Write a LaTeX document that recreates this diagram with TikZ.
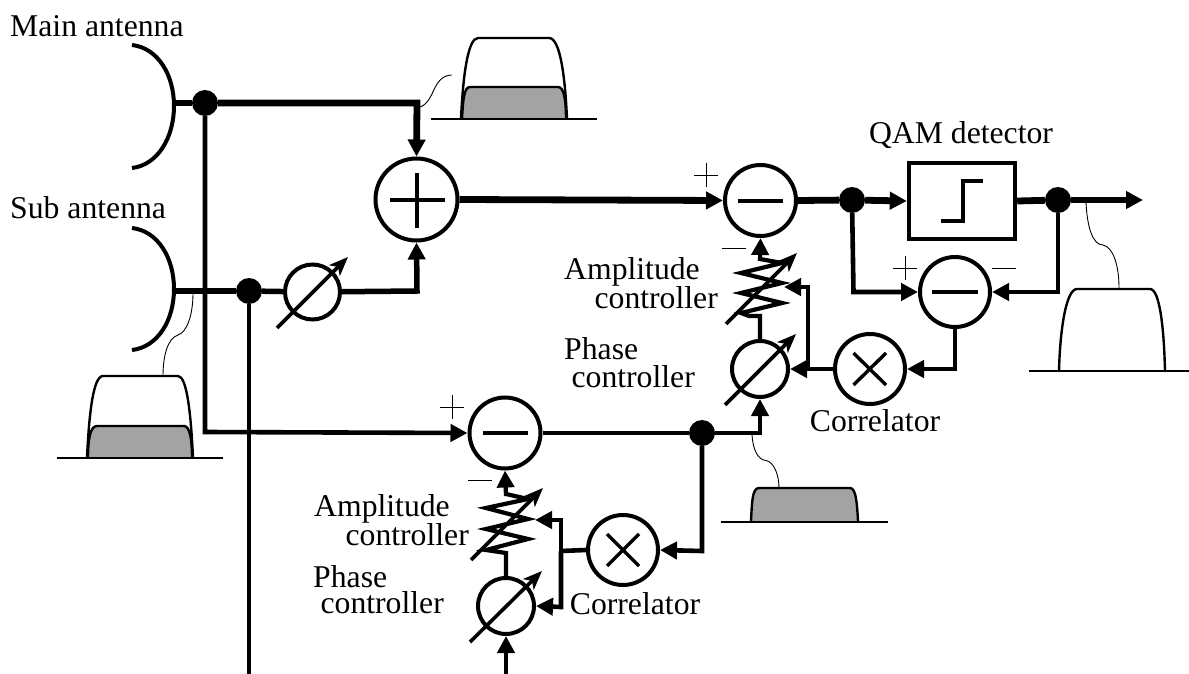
\documentclass[tikz,border=0pt]{standalone}
\usepackage{fontspec}
\setmainfont{Liberation Serif}
\usetikzlibrary{arrows.meta}
\tikzset{
  x=1pt,y=-1pt,
  thick line/.style={line width=6.8pt,line join=miter},
  mid line/.style={line width=4.6pt,line join=miter},
  zig line/.style={line width=4.2pt,line join=miter},
  thin wig/.style={line width=0.9pt},
  tip/.style={-{Triangle[length=17pt,width=17pt]}},
  circ/.style={circle,draw,line width=4pt,fill=white,inner sep=0pt,minimum size=#1},
  dotn/.style={circle,fill=black,inner sep=0pt,minimum size=26pt},
  lab/.style={font=\fontsize{31.7}{34}\selectfont,inner sep=0pt,anchor=center},
  sign/.style={line width=0.9pt},
  spec/.style={line width=2.4pt,line join=round},
  adj/.style={line width=3.6pt,-{Stealth[length=19pt,width=15pt,inset=5pt]}},
}
\begin{document}
\begin{tikzpicture}
\useasboundingbox (0,0) rectangle (1189,674);
\fill[white] (0,0) rectangle (1189,674);
% coordinates
\coordinate (mA) at (174,103);
\coordinate (sA) at (174,291);
\coordinate (mCorner) at (417,103);
\coordinate (sCorner) at (417,291);
\coordinate (lowL) at (205,432);
\coordinate (subBottom) at (249,674);
\coordinate (refBottom) at (506,674);
\coordinate (outEnd) at (1143,200);
\coordinate (cornerA) at (853.5,292);
\coordinate (cornerB) at (1058,292);
\coordinate (cornerC) at (955,369);
\coordinate (cornerD) at (760,433);
\coordinate (cornerE) at (702,551);
\coordinate (busT) at (808,287);
\coordinate (busB) at (808,369);
\coordinate (bus2T) at (561,520);
\coordinate (bus2B) at (561,607);
\coordinate (bus2M) at (561,551);
% nodes
\node[circ=82pt] (add) at (416.5,199.5) {};
\node[circ=71pt] (subA) at (760.5,200.5) {};
\node[circ=70pt] (subC) at (955,292) {};
\node[circ=71pt] (subB) at (505,433) {};
\node[circ=70pt] (corA) at (870,369) {};
\node[circ=70pt] (corB) at (623,550) {};
\node[circ=55pt] (phS) at (312.5,292) {};
\node[circ=56pt] (phA) at (760,369) {};
\node[circ=56pt] (phB) at (506,606) {};
\node[draw,line width=4.4pt,minimum width=106pt,minimum height=76pt,inner sep=0pt] (qam) at (962,201) {};
\node[dotn] (d1) at (205,103) {};
\node[dotn] (d2) at (249,291) {};
\node[dotn] (d3) at (852,200) {};
\node[dotn] (d4) at (1058,200) {};
\node[dotn] (d5) at (702,433) {};
% antennas
\draw[line width=4pt] (132,45) .. controls (158,48) and (174,75) .. (174,106) .. controls (174,137) and (158,165) .. (132,168);
\draw[line width=4pt] (132,228) .. controls (158,231) and (174,258) .. (174,289) .. controls (174,320) and (158,347) .. (132,350);
% connectors
\draw[thick line] (mA) -- (d1);
\draw[thick line,tip] (d1) -- (mCorner) -- (add.north);
\draw[thick line,tip] (add.east) -- (subA.west);
\draw[line width=5.5pt] (sA) -- (d2);
\draw[line width=5.5pt] (d2) -- (phS);
\draw[line width=5.5pt,tip] (phS) -- (sCorner) -- (add.south);
\draw[mid line,tip] (d1) -- (lowL) -- (subB.west);
\draw[mid line] (d2) -- (subBottom);
\draw[thick line] (subA.east) -- (d3);
\draw[thick line,tip] (d3) -- (qam.west);
\draw[thick line] (qam.east) -- (d4);
\draw[line width=5.5pt,tip] (d4) -- (outEnd);
\draw[mid line,tip] (d3) -- (cornerA) -- (subC.west);
\draw[mid line,tip] (d4) -- (cornerB) -- (subC.east);
\draw[mid line,tip] (subC.south) -- (cornerC) -- (corA.east);
\draw[mid line,tip] (corA.west) -- (phA.east);
\draw[mid line,tip] (busB) -- (busT) -- ++(-24,0);
\draw[mid line] (subB.east) -- (d5);
\draw[mid line,tip] (d5) -- (cornerD) -- (phA.south);
\draw[mid line,tip] (d5) -- (cornerE) -- (corB.east);
\draw[mid line] (corB.west) -- (bus2M);
\draw[mid line,tip] (bus2M) -- (bus2T) -- ++(-26,0);
\draw[mid line,tip] (bus2M) -- (bus2B) -- (phB.east);
\draw[mid line,tip] (refBottom) -- (phB.south);
% zigzags
\draw[zig line] (phA.north) -- (760,316) -- (749,316) -- (741,313) -- (782,303) -- (741,293) -- (782,283) -- (741,273) -- (782,263) -- (760,259);
\draw[zig line,tip] (760,261) -- (subA.south);
\draw[zig line] (phB.north) -- (506,553) -- (486,550) -- (528,539) -- (486,529) -- (528,519) -- (486,508) -- (528,499) -- (506,494);
\draw[zig line,tip] (506,496) -- (subB.south);
% adjust arrows
\draw[adj] (277,328) -- (348,257);
\draw[adj] (726,324) -- (797,253);
\draw[adj] (725,405) -- (796,334);
\draw[adj] (471,560) -- (543,488);
\draw[adj] (470,642) -- (542,571);
% inner symbols
\draw[line width=4pt] (390,200) -- (445,200) (416.5,173) -- (416.5,228);
\draw[line width=4pt] (738,200.5) -- (783,200.5);
\draw[line width=4pt] (932,292) -- (977.5,292);
\draw[line width=4pt] (483,433) -- (528,433);
\draw[line width=3.4pt] (853.5,353) -- (886,385) (853.5,385) -- (886,353);
\draw[line width=3.4pt] (607,534) -- (639,566) (607,566) -- (639,534);
\draw[line width=4pt] (941,221) -- (962.5,221) -- (962.5,181) -- (983,181);
% sign marks
\draw[sign] (694,175) -- (718,175) (706,163) -- (706,187);
\draw[sign] (722,248) -- (746,248);
\draw[sign] (893,268) -- (917,268) (905,256) -- (905,280);
\draw[sign] (992,268) -- (1016,268);
\draw[sign] (440,407) -- (464,407) (452,395) -- (452,419);
\draw[sign] (468,480) -- (492,480);
% spectra
\fill[black!36] (462,119) .. controls (463,100) and (464,87) .. (470,87) -- (558,87) .. controls (564,87) and (566,100) .. (566,119) -- cycle;
\draw[spec] (462,119) .. controls (463,100) and (464,87) .. (470,87) -- (558,87) .. controls (564,87) and (566,100) .. (566,119);
\draw[spec] (461,119) .. controls (463,75) and (468,38) .. (478,38) -- (549,38) .. controls (560,38) and (565,75) .. (567,119);
\draw[spec] (431,119) -- (597,119);
\draw[thin wig] (420,107) .. controls (435,102) and (432,76) .. (451.6,75);
\draw[spec] (1059,371) .. controls (1060,330) and (1066,289) .. (1077,289) -- (1150,289) .. controls (1160,289) and (1164,330) .. (1165,371);
\draw[spec] (1029,371) -- (1189,371);
\draw[thin wig] (1086,202) .. controls (1087,225) and (1092,245) .. (1103,245) .. controls (1113,247) and (1119,265) .. (1119,288);
\fill[black!36] (88,458) .. controls (88,440) and (90,426) .. (97,426) -- (184,426) .. controls (190,426) and (192,440) .. (192,458) -- cycle;
\draw[spec] (88,458) .. controls (88,440) and (90,426) .. (97,426) -- (184,426) .. controls (190,426) and (192,440) .. (192,458);
\draw[spec] (87,458) .. controls (89,415) and (93,376) .. (103,376) -- (178,376) .. controls (187,376) and (191,415) .. (193,458);
\draw[spec] (57,458) -- (223,458);
\draw[thin wig] (193,293) .. controls (193,315) and (187,332) .. (178,335) .. controls (168,338) and (163,355) .. (163,376);
\fill[black!36] (751,521) .. controls (752,503) and (752,488) .. (759,488) -- (850,488) .. controls (856,488) and (857,503) .. (858,521) -- cycle;
\draw[spec] (751,521) .. controls (752,503) and (752,488) .. (759,488) -- (850,488) .. controls (856,488) and (857,503) .. (858,521);
\draw[spec] (721,522) -- (888,522);
\draw[thin wig] (752,435) .. controls (753,450) and (758,460) .. (766,460.5) .. controls (774,462) and (779,475) .. (779,488);
% labels
\node[lab,anchor=west] (t1) at (10,26) {Main antenna};
\node[lab,anchor=west] (t2) at (10,208) {Sub antenna};
\node[lab] (t3) at (961,135) {QAM detector};
\node[lab,anchor=west] (t4) at (564,272) {Amplitude};
\node[lab,anchor=east] (t5) at (718,298) {controller};
\node[lab,anchor=west] (t6) at (564,349) {Phase};
\node[lab,anchor=east] (t7) at (695,377) {controller};
\node[lab] (t8) at (875,421) {Correlator};
\node[lab,anchor=west] (t9) at (314,509) {Amplitude};
\node[lab,anchor=east] (t10) at (469,535) {controller};
\node[lab,anchor=west] (t11) at (313,577) {Phase};
\node[lab,anchor=east] (t12) at (444,603) {controller};
\node[lab] (t13) at (635,604) {Correlator};
\end{tikzpicture}
\end{document}
